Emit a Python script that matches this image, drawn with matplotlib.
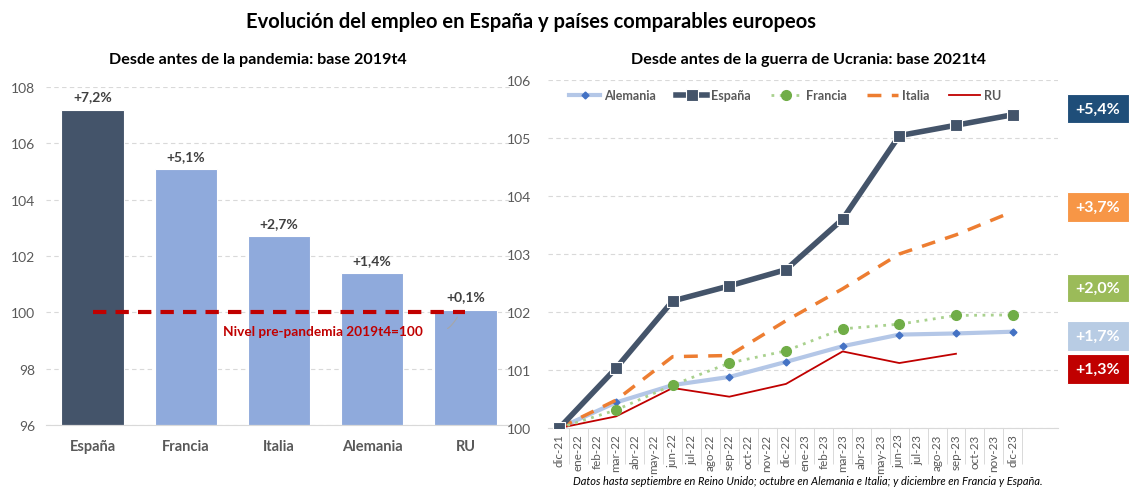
import matplotlib.pyplot as plt
from matplotlib.patches import Rectangle
import numpy as np

plt.rcParams['font.family'] = ['Lato', 'DejaVu Sans']

# --- Left panel data (base 2019t4 = 100)
countries = ["España", "Francia", "Italia", "Alemania", "RU"]
bar_values = [107.2, 105.1, 102.7, 101.4, 100.1]
bar_labels = ["+7,2%", "+5,1%", "+2,7%", "+1,4%", "+0,1%"]

# --- Right panel data (base 2021t4 = 100), quarterly points on monthly axis
months = ["dic-21", "ene-22", "feb-22", "mar-22", "abr-22", "may-22", "jun-22", "jul-22",
          "ago-22", "sep-22", "oct-22", "nov-22", "dic-22", "ene-23", "feb-23", "mar-23",
          "abr-23", "may-23", "jun-23", "jul-23", "ago-23", "sep-23", "oct-23", "nov-23", "dic-23"]
quarter_idx = [0, 3, 6, 9, 12, 15, 18, 21, 24]
alemania = [100, 100.44, 100.74, 100.88, 101.14, 101.41, 101.61, 101.63, 101.66]
espana = [100, 101.03, 102.19, 102.45, 102.73, 103.60, 105.04, 105.22, 105.40]
francia = [100, 100.31, 100.74, 101.12, 101.33, 101.71, 101.79, 101.94, 101.95]
italia = [100, 100.48, 101.23, 101.25, 101.85, 102.40, 103.00, 103.33, 103.73]
ru = [100, 100.20, 100.69, 100.54, 100.76, 101.32, 101.12, 101.28]

end_labels = ["+5,4%", "+3,7%", "+2,0%", "+1,7%", "+1,3%"]
end_colors = ["#1F4E79", "#F79646", "#9BBB59", "#B8CCE4", "#C00000"]

grey = "#595959"
grid_c = "#D9D9D9"

fig = plt.figure(figsize=(11.36, 4.89), dpi=100)

fig.text(0.467, 0.955, "Evolución del empleo en España y países comparables europeos",
         ha='center', va='center', fontsize=14.5, fontweight='bold', color='black')
fig.text(0.227, 0.877, "Desde antes de la pandemia: base 2019t4",
         ha='center', va='center', fontsize=11.6, fontweight='bold', color='black')
fig.text(0.712, 0.877, "Desde antes de la guerra de Ucrania: base 2021t4",
         ha='center', va='center', fontsize=11.6, fontweight='bold', color='black')

# --- Left: bars
ax1 = fig.add_axes([0.0405, 0.1288, 0.4102, 0.6912])
x = np.arange(len(countries))
colors = ["#44546A"] + ["#8FAADC"] * (len(countries) - 1)
ax1.bar(x, [v - 96 for v in bar_values], bottom=96, width=0.67, color=colors,
        edgecolor='white', linewidth=0.8, zorder=2)
for xi, v, lab in zip(x, bar_values, bar_labels):
    ax1.text(xi, v + 0.25, lab, ha='center', va='bottom', fontsize=10,
             fontweight='bold', color='#404040')
ax1.plot([0, 4], [100, 100], color='#C00000', lw=3, dashes=(3.2, 2.2), zorder=3)
ax1.text(2.47, 99.33, "Nivel pre-pandemia 2019t4=100", ha='center', va='center',
         fontsize=9.8, fontweight='bold', color='#C00000', zorder=4)
ax1.annotate("", xy=(3.93, 99.92), xytext=(3.78, 99.4),
             arrowprops=dict(arrowstyle='-', color='#A6A6A6', lw=0.8,
                             connectionstyle='angle3,angleA=0,angleB=60'))
ax1.set_xlim(-0.5, 4.5)
ax1.set_ylim(96, 108)
ax1.set_yticks(range(96, 109, 2))
ax1.set_xticks(x)
ax1.set_xticklabels(countries, fontsize=10.5, fontweight='bold', color=grey)
ax1.tick_params(axis='y', length=0, labelsize=10, colors=grey, pad=8)
ax1.tick_params(axis='x', length=0, pad=10)
ax1.grid(axis='y', color=grid_c, ls=(0, (4, 3)), lw=0.8, zorder=0)
for s in ['top', 'right', 'left']:
    ax1.spines[s].set_visible(False)
ax1.spines['bottom'].set_color(grid_c)

# --- Right: lines
ax2 = fig.add_axes([0.4824, 0.1227, 0.4489, 0.7117])
ax2.plot(quarter_idx, alemania, color='#B4C7E7', lw=3, marker='D', ms=3.5,
         mfc='#4472C4', mec='#4472C4', label='Alemania', zorder=3)
ax2.plot(quarter_idx, espana, color='#44546A', lw=4, marker='s', ms=9,
         mfc='#44546A', mec='white', mew=0.8, label='España', zorder=5)
ax2.plot(quarter_idx, francia, color='#A9D18E', lw=2, ls=(0, (1, 2)), marker='o', ms=7,
         mfc='#70AD47', mec='#70AD47', label='Francia', zorder=4)
ax2.plot(quarter_idx, italia, color='#ED7D31', lw=2.5, ls=(0, (4, 3)), label='Italia', zorder=3)
ax2.plot(quarter_idx[:len(ru)], ru, color='#C00000', lw=1.3, label='RU', zorder=3)

ax2.set_xlim(-0.6, 26.4)
ax2.set_ylim(100, 106)
ax2.set_yticks(range(100, 107))
ax2.set_xticks(range(len(months)))
ax2.set_xticklabels(months, rotation=90, fontsize=8.4, color=grey)
ax2.set_xticks(np.arange(len(months)) + 0.5, minor=True)
ax2.tick_params(axis='x', which='major', length=0, pad=4)
ax2.tick_params(axis='x', which='minor', length=26, color=grid_c, width=0.7)
ax2.tick_params(axis='y', length=0, labelsize=10, colors=grey, pad=12)
ax2.grid(axis='y', color=grid_c, ls=(0, (4, 3)), lw=0.8, zorder=0)
for s in ['top', 'right', 'left']:
    ax2.spines[s].set_visible(False)
ax2.spines['bottom'].set_color(grid_c)

leg = ax2.legend(loc='upper center', bbox_to_anchor=(0.465, 1.005), ncol=5, frameon=False,
                 fontsize=9, handlelength=2.5, columnspacing=1.6, handletextpad=0.3)
for t in leg.get_texts():
    t.set_color(grey)
    t.set_fontweight('bold')

# --- End-value boxes
box_tops = [95, 193, 275, 322, 355]
box_h = [29, 30, 28, 30, 30]
W, H = 1136.0, 489.0
for lab, col, top, h in zip(end_labels, end_colors, box_tops, box_h):
    x0 = 1067 / W
    y0 = 1 - (top + h) / H
    fig.patches.append(Rectangle((x0, y0), 62 / W, h / H, transform=fig.transFigure,
                                 facecolor=col, edgecolor='white', lw=0.8))
    fig.text(x0 + 31 / W, y0 + h / (2 * H), lab, ha='center', va='center',
             fontsize=11.5, fontweight='bold', color='white')

fig.text(0.711, 0.004, "Datos hasta septiembre en Reino Unido; octubre en Alemania e Italia; "
         "y diciembre en Francia y España.", ha='center', va='bottom', fontsize=7.9,
         style='italic', color='black')

fig.savefig("out.png", dpi=100)
